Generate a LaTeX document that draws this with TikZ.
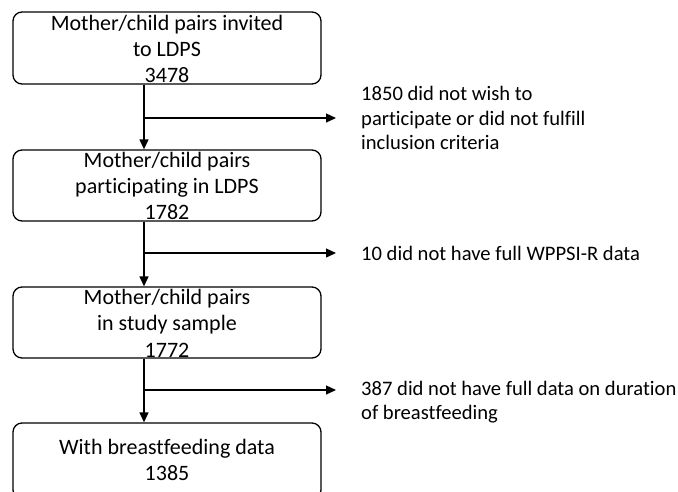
\documentclass[tikz,border=0pt]{standalone}
\usepackage{fontspec}
\setmainfont{Carlito}[Ligatures={NoCommon}]
\usetikzlibrary{arrows.meta}
\tikzset{
  box/.style={draw, line width=1.3pt, rounded corners=9pt, minimum width=308pt, inner sep=0pt},
  boxtxt/.style={align=center, inner sep=0pt, font=\fontsize{22}{26.4}\selectfont},
  sidetxt/.style={align=left, anchor=west, inner sep=0pt, font=\fontsize{20.6}{24.6}\selectfont},
  flow/.style={line width=1.3pt, -{Triangle[length=10pt,width=9pt]}}
}
\begin{document}
\begin{tikzpicture}[x=1pt,y=-1pt]
\useasboundingbox (0,0) rectangle (678,491);
\clip (0,0) rectangle (678,491);
% boxes
\node[box, minimum height=72pt] (b1) at (167,48) {};
\node[box, minimum height=71pt] (b2) at (167,185.5) {};
\node[box, minimum height=71pt] (b3) at (167,322.5) {};
\node[box, minimum height=76pt] (b4) at (167,461) {};
\node[boxtxt] (t1) at (167,49) {Mother/child pairs invited\\to LDPS\\3478};
\node[boxtxt] (t2) at (167,186) {Mother/child pairs\\participating in LDPS\\1782};
\node[boxtxt] (t3) at (167,323) {Mother/child pairs\\in study sample\\1772};
\node[boxtxt] (t4) at (167,460) {With breastfeeding data\\1385};
% side texts
\node[sidetxt] (e1) at (361,118) {1850 did not wish to\\participate or did not fulfill\\inclusion criteria};
\node[sidetxt] (e2) at (361,253) {10 did not have full WPPSI-R data};
\node[sidetxt] (e3) at (361,402) {387 did not have full data on duration\\of breastfeeding};
% connectors
\coordinate (xl) at (144,0);
\coordinate (p1) at (336,118);
\coordinate (p2) at (336,253);
\coordinate (p3) at (336,390);
\draw[flow] (xl |- b1.south) -- (xl |- b2.north);
\draw[flow] (xl |- b2.south) -- (xl |- b3.north);
\draw[flow] (xl |- b3.south) -- (xl |- b4.north);
\draw[flow] (xl |- p1) -- (p1);
\draw[flow] (xl |- p2) -- (p2);
\draw[flow] (xl |- p3) -- (p3);
\end{tikzpicture}
\end{document}
